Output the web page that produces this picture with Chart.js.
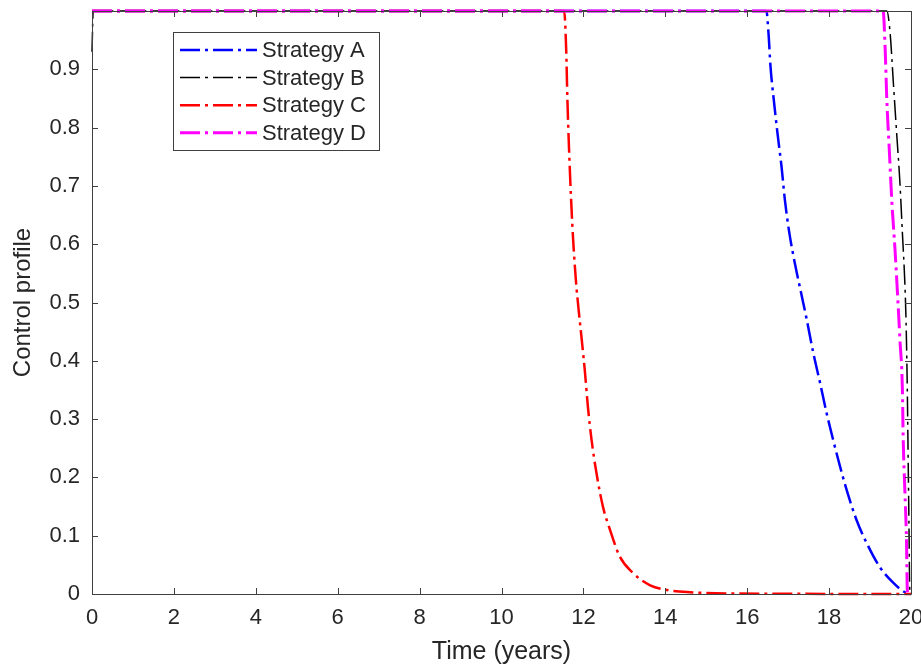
<!DOCTYPE html>
<html>
<head>
<meta charset="utf-8">
<script src="https://cdn.jsdelivr.net/npm/chart.js@4.4.1/dist/chart.umd.min.js"></script>
<style>
  html, body { margin: 0; padding: 0; background: #fff; }
  #wrap { width: 921px; height: 668px; }
</style>
</head>
<body>
<div id="wrap"><canvas id="chart"></canvas></div>
<script>
// values
const seriesNames = ['Strategy A', 'Strategy B', 'Strategy C', 'Strategy D'];

const timeA = [0, 16.47, 16.52, 16.57, 16.65, 16.74, 16.84, 16.92, 17.03, 17.17, 17.33, 17.45, 17.61, 17.78, 17.94, 18.10, 18.27, 18.43, 18.67, 18.92, 19.24, 19.57, 19.85, 19.97, 20];
const controlA = [1, 1, 0.962, 0.904, 0.847, 0.79, 0.732, 0.676, 0.619, 0.565, 0.512, 0.472, 0.415, 0.362, 0.31, 0.264, 0.218, 0.178, 0.127, 0.087, 0.046, 0.019, 0.003, 0, 0];

const timeB = [0, 0.03, 19.41, 19.49, 19.57, 19.65, 19.73, 19.79, 19.85, 19.88, 19.91, 19.93, 19.95, 19.97, 20];
const controlB = [0.93, 1, 1, 0.962, 0.876, 0.79, 0.705, 0.619, 0.533, 0.465, 0.35, 0.235, 0.122, 0.007, 0];

const timeC = [0, 11.53, 11.58, 11.61, 11.65, 11.70, 11.75, 11.82, 11.88, 11.96, 12.04, 12.11, 12.20, 12.32, 12.48, 12.65, 12.89, 13.21, 13.63, 14.04, 14.6, 15.5, 20];
const controlC = [1, 1, 0.933, 0.847, 0.762, 0.676, 0.607, 0.535, 0.49, 0.436, 0.379, 0.321, 0.264, 0.207, 0.149, 0.11, 0.064, 0.036, 0.015, 0.007, 0.003, 0.001, 0];

const timeD = [0, 19.32, 19.37, 19.41, 19.47, 19.53, 19.61, 19.67, 19.73, 19.79, 19.81, 19.85, 19.89, 19.91, 19.93, 20];
const controlD = [1, 1, 0.933, 0.847, 0.762, 0.676, 0.59, 0.516, 0.436, 0.35, 0.264, 0.178, 0.093, 0.007, 0, 0];

const xTicks = [0, 2, 4, 6, 8, 10, 12, 14, 16, 18, 20];
const yTicks = [0, 0.1, 0.2, 0.3, 0.4, 0.5, 0.6, 0.7, 0.8, 0.9];

const FONT = '"Liberation Sans", Arial, sans-serif';
const AXIS_COLOR = '#404040';
const TEXT_COLOR = '#262626';

function toPoints(ts, vs) {
  return ts.map((t, i) => ({ x: t, y: vs[i] }));
}

// matlab style box + inward ticks on all four sides
const boxPlugin = {
  id: 'boxPlugin',
  afterDatasetsDraw(chart) {
    const { ctx, chartArea: a, scales } = chart;
    const len = 6;
    ctx.save();
    ctx.strokeStyle = AXIS_COLOR;
    ctx.lineWidth = 1;
    ctx.beginPath();
    ctx.rect(a.left + 0.5, a.top + 0.5, a.right - a.left, a.bottom - a.top);
    xTicks.forEach(v => {
      const px = Math.round(scales.x.getPixelForValue(v)) + 0.5;
      ctx.moveTo(px, a.bottom); ctx.lineTo(px, a.bottom - len);
      ctx.moveTo(px, a.top); ctx.lineTo(px, a.top + len);
    });
    yTicks.forEach(v => {
      const py = Math.round(scales.y.getPixelForValue(v)) + 0.5;
      ctx.moveTo(a.left, py); ctx.lineTo(a.left + len, py);
      ctx.moveTo(a.right, py); ctx.lineTo(a.right - len, py);
    });
    ctx.stroke();
    ctx.restore();
  }
};

// legend box in the upper left of the axes
const legendPlugin = {
  id: 'legendPlugin',
  afterDraw(chart) {
    const { ctx, chartArea: a } = chart;
    const bx = a.left + 81, by = a.top + 21, bw = 206, bh = 118;
    ctx.save();
    ctx.fillStyle = '#fff';
    ctx.fillRect(bx, by, bw, bh);
    ctx.strokeStyle = AXIS_COLOR;
    ctx.lineWidth = 1;
    ctx.strokeRect(bx + 0.5, by + 0.5, bw, bh);
    ctx.font = '22px ' + FONT;
    ctx.textBaseline = 'middle';
    chart.data.datasets.forEach((ds, i) => {
      const y = by + 18 + i * 27.6;
      ctx.strokeStyle = ds.borderColor;
      ctx.lineWidth = ds.borderWidth;
      ctx.setLineDash(ds.borderDash);
      ctx.beginPath();
      ctx.moveTo(bx + 7, y);
      ctx.lineTo(bx + 84, y);
      ctx.stroke();
      ctx.setLineDash([]);
      ctx.fillStyle = TEXT_COLOR;
      ctx.fillText(ds.label, bx + 89, y + 1);
    });
    ctx.restore();
  }
};

const dash = [20, 5, 3, 5];

new Chart(document.getElementById('chart'), {
  type: 'line',
  data: {
    datasets: [
      { label: seriesNames[0], data: toPoints(timeA, controlA), borderColor: '#0000ff', borderWidth: 2.5, borderDash: dash, order: 3 },
      { label: seriesNames[1], data: toPoints(timeB, controlB), borderColor: '#000000', borderWidth: 1.5, borderDash: dash, order: 1 },
      { label: seriesNames[2], data: toPoints(timeC, controlC), borderColor: '#ff0000', borderWidth: 2.5, borderDash: dash, order: 2 },
      { label: seriesNames[3], data: toPoints(timeD, controlD), borderColor: '#ff00ff', borderWidth: 3, borderDash: dash, order: 0 }
    ].map(ds => Object.assign(ds, { pointRadius: 0, cubicInterpolationMode: 'monotone', fill: false, clip: 6 }))
  },
  options: {
    responsive: true,
    maintainAspectRatio: false,
    animation: false,
    layout: { padding: { top: 11, right: 10, left: 0, bottom: 0 } },
    plugins: {
      legend: { display: false },
      tooltip: { enabled: false }
    },
    scales: {
      x: {
        type: 'linear',
        min: 0,
        max: 20,
        afterBuildTicks(scale) { scale.ticks = xTicks.map(v => ({ value: v })); },
        afterFit(scale) { scale.height = 74; scale.paddingLeft = 0; scale.paddingRight = 0; },
        grid: { display: false, drawTicks: false },
        border: { display: false },
        ticks: {
          color: TEXT_COLOR,
          font: { family: FONT, size: 22 },
          padding: 11,
          maxRotation: 0,
          autoSkip: false,
          callback: v => String(v)
        },
        title: {
          display: true,
          text: 'Time (years)',
          color: TEXT_COLOR,
          font: { family: FONT, size: 25 },
          padding: { top: 0, bottom: 1 }
        }
      },
      y: {
        type: 'linear',
        min: 0,
        max: 1,
        afterBuildTicks(scale) { scale.ticks = yTicks.map(v => ({ value: v })); },
        afterFit(scale) { scale.width = 92; scale.paddingTop = 0; scale.paddingBottom = 0; },
        grid: { display: false, drawTicks: false },
        border: { display: false },
        ticks: {
          color: TEXT_COLOR,
          font: { family: FONT, size: 22 },
          padding: 12,
          autoSkip: false,
          callback: v => (v === 0 ? '0' : v.toFixed(1))
        },
        title: {
          display: true,
          text: 'Control profile',
          color: TEXT_COLOR,
          font: { family: FONT, size: 24 },
          padding: { top: 9, bottom: 0 }
        }
      }
    }
  },
  plugins: [boxPlugin, legendPlugin]
});
</script>
</body>
</html>
